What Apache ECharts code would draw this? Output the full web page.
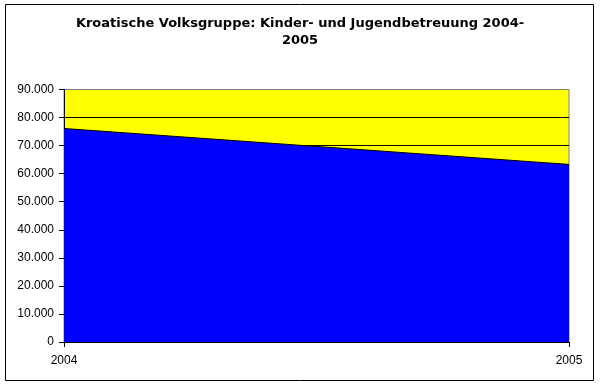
<!DOCTYPE html>
<html><head><meta charset="utf-8">
<script src="https://cdn.jsdelivr.net/npm/echarts@6/dist/echarts.min.js"></script>
<style>html,body{margin:0;padding:0;background:#fff}#c{width:600px;height:388px}</style>
</head><body><div id="c"></div>
<script>
const categories = ['2004', '2005'];
const values = [76100, 63300];
const yTicks = [0, 10000, 20000, 30000, 40000, 50000, 60000, 70000, 80000, 90000];

const chart = echarts.init(document.getElementById('c'));
chart.setOption({
  animation: false,
  backgroundColor: '#fff',
  textStyle: { fontFamily: 'Liberation Sans, Arial, sans-serif' },
  title: {
    text: 'Kroatische Volksgruppe: Kinder- und Jugendbetreuung 2004-\n2005',
    left: 'center', top: 10,
    textStyle: { fontSize: 13, fontWeight: 'bold', color: '#000', lineHeight: 17, fontFamily: 'DejaVu Sans, Verdana, sans-serif' }
  },
  graphic: [{
    type: 'rect', shape: { x: 5.5, y: 4.5, width: 588, height: 376 },
    style: { fill: 'none', stroke: '#000', lineWidth: 1 }, z: 100
  }],
  grid: { left: 64, right: 31, top: 89.5, bottom: 46, show: true, backgroundColor: '#ffff00', borderColor: '#808080', borderWidth: 1 },
  xAxis: {
    type: 'category', data: categories, boundaryGap: false,
    axisLine: { lineStyle: { color: '#000' } },
    axisTick: { length: 5, lineStyle: { color: '#000' } },
    axisLabel: { color: '#000', fontSize: 12, margin: 13 },
    splitLine: { show: false }
  },
  yAxis: {
    type: 'value', min: 0, max: 90000, interval: 10000,
    axisLine: { show: true, lineStyle: { color: '#000' } },
    axisTick: { show: true, length: 5, lineStyle: { color: '#000' } },
    axisLabel: { color: '#000', fontSize: 12, margin: 10,
      formatter: v => v === 0 ? '0' : (v / 1000).toFixed(0) + '.000' },
    splitLine: { show: true, showMaxLine: false, lineStyle: { color: '#000', width: 1 } }
  },
  series: [{
    type: 'line', data: values, symbol: 'none',
    lineStyle: { color: '#000', width: 1 },
    areaStyle: { color: '#0000ff', opacity: 1 }
  }]
});
</script></body></html>
